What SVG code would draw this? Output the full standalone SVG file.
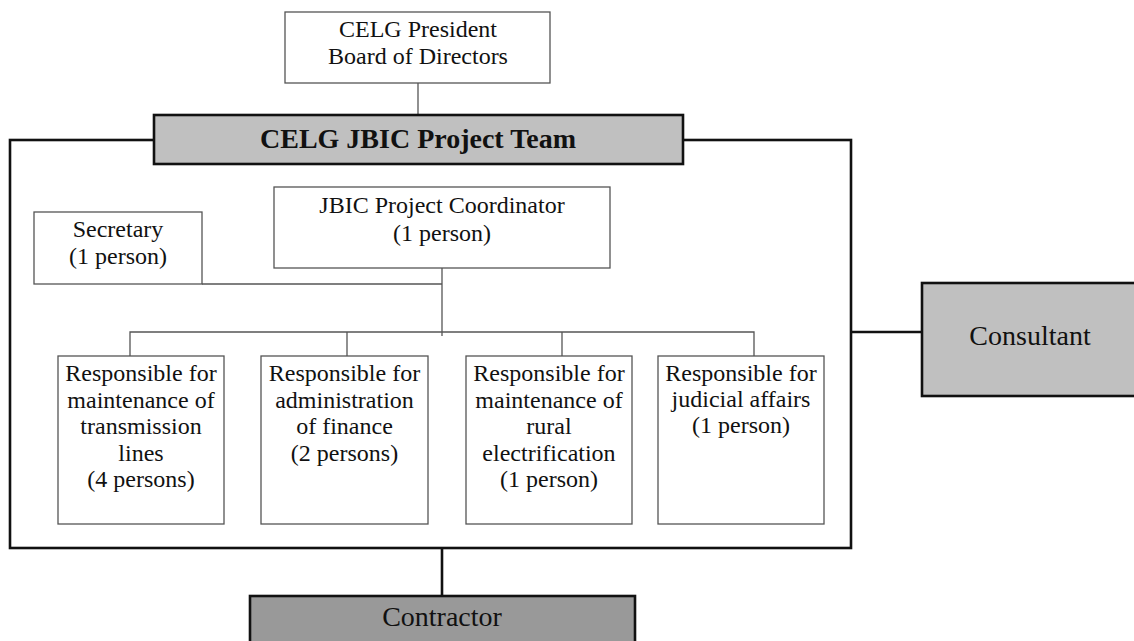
<svg xmlns="http://www.w3.org/2000/svg" width="1134" height="641" viewBox="0 0 1134 641">
<style>
text{font-family:"Liberation Serif","Times New Roman",serif;font-size:24px;fill:#111;text-anchor:middle}
.box{fill:#fff;stroke:#555;stroke-width:1.3}
.thin{fill:none;stroke:#555;stroke-width:1.3}
.thick{fill:none;stroke:#111;stroke-width:2.6}
.grey{fill:#c0c0c0;stroke:#111;stroke-width:2.6}
.dark{fill:#999;stroke:#111;stroke-width:2.6}
.big{font-size:28px}
.bold{font-weight:bold}
</style>
<rect width="1134" height="641" fill="#fff"/>
<g id="connectors">
<rect x="10" y="140" width="841" height="408" class="thick"/>
<line x1="418" y1="83" x2="418" y2="115" class="thin"/>
<line x1="851" y1="332" x2="922" y2="332" class="thick"/>
<line x1="442" y1="548" x2="442" y2="596" class="thick"/>
<polyline points="202,284 442,284" class="thin"/>
<line x1="442" y1="268" x2="442" y2="336" class="thin"/>
<polyline points="130,356 130,332 754,332 754,356" class="thin"/>
<line x1="347" y1="332" x2="347" y2="356" class="thin"/>
<line x1="562" y1="332" x2="562" y2="356" class="thin"/>
</g>
<g id="president">
<rect x="285" y="12" width="265" height="71" class="box"/>
<text x="418" y="37">CELG President</text>
<text x="418" y="64">Board of Directors</text>
</g>
<g id="team">
<rect x="154" y="115" width="529" height="49" class="grey"/>
<text x="418" y="148" class="big bold">CELG JBIC Project Team</text>
</g>
<g id="secretary">
<rect x="34" y="212" width="168" height="72" class="box"/>
<text x="118" y="237">Secretary</text>
<text x="118" y="264">(1 person)</text>
</g>
<g id="coordinator">
<rect x="274" y="187" width="336" height="81" class="box"/>
<text x="442" y="213">JBIC Project Coordinator</text>
<text x="442" y="241">(1 person)</text>
</g>
<g id="transmission">
<rect x="58" y="356" width="166" height="168" class="box"/>
<text x="141" y="381">Responsible for</text>
<text x="141" y="408">maintenance of</text>
<text x="141" y="434">transmission</text>
<text x="141" y="461">lines</text>
<text x="141" y="487">(4 persons)</text>
</g>
<g id="finance">
<rect x="261" y="356" width="167" height="168" class="box"/>
<text x="344.5" y="381">Responsible for</text>
<text x="344.5" y="408">administration</text>
<text x="344.5" y="434">of finance</text>
<text x="344.5" y="461">(2 persons)</text>
</g>
<g id="rural">
<rect x="466" y="356" width="166" height="168" class="box"/>
<text x="549" y="381">Responsible for</text>
<text x="549" y="408">maintenance of</text>
<text x="549" y="434">rural</text>
<text x="549" y="461">electrification</text>
<text x="549" y="487">(1 person)</text>
</g>
<g id="judicial">
<rect x="658" y="356" width="166" height="168" class="box"/>
<text x="741" y="381">Responsible for</text>
<text x="741" y="407">judicial affairs</text>
<text x="741" y="433">(1 person)</text>
</g>
<g id="consultant">
<rect x="922" y="283" width="218" height="113" class="grey"/>
<text x="1030" y="345" class="big">Consultant</text>
</g>
<g id="contractor">
<rect x="250" y="596" width="385" height="50" class="dark"/>
<text x="442" y="626" class="big">Contractor</text>
</g>
</svg>
